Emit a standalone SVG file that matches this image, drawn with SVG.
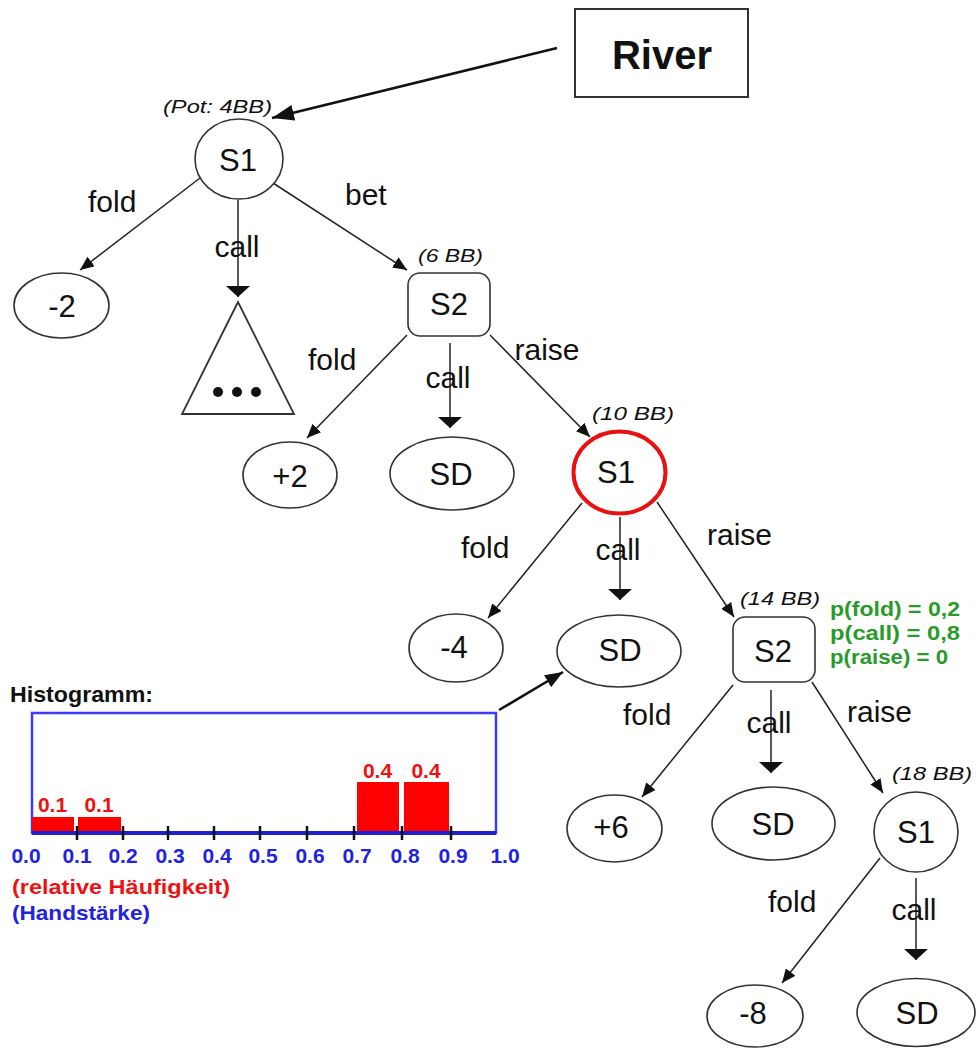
<svg xmlns="http://www.w3.org/2000/svg" width="976" height="1051" viewBox="0 0 976 1051">
<defs>
<style>
.n{fill:#fff;stroke:#333;stroke-width:1.6}
.t{font-family:"Liberation Sans",Arial,sans-serif;font-size:31px;fill:#111;text-anchor:middle}
.lb{font-family:"Liberation Sans",Arial,sans-serif;font-size:30px;fill:#111}
.pot{font-family:"Liberation Sans",Arial,sans-serif;font-size:18px;font-style:italic;fill:#111}
.e{stroke:#222;stroke-width:1.5;fill:none}
.ea{marker-end:url(#a)}
.ec{marker-end:url(#c)}
.g{font-family:"Liberation Sans",Arial,sans-serif;font-size:20px;font-weight:bold;fill:#2a9a2a}
.hb{font-family:"Liberation Sans",Arial,sans-serif;font-size:21px;font-weight:bold}
.bl{fill:#2222e0;text-anchor:middle}
.rd{fill:#ee1111}
</style>
<marker id="a" viewBox="0 0 14 12" refX="14" refY="6" markerWidth="14" markerHeight="12" markerUnits="userSpaceOnUse" orient="auto"><path d="M0,0 L14,6 L0,12 z" fill="#111"/></marker>
<marker id="c" viewBox="0 0 11 24" refX="11" refY="12" markerWidth="11" markerHeight="24" markerUnits="userSpaceOnUse" orient="auto"><path d="M0,0 L11,12 L0,24 z" fill="#111"/></marker>
<marker id="big" viewBox="0 0 22 16" refX="22" refY="8" markerWidth="22" markerHeight="16" markerUnits="userSpaceOnUse" orient="auto"><path d="M0,0 L22,8 L0,16 z" fill="#111"/></marker>
<marker id="h" viewBox="0 0 18 14" refX="18" refY="7" markerWidth="18" markerHeight="14" markerUnits="userSpaceOnUse" orient="auto"><path d="M0,0 L18,7 L0,14 z" fill="#111"/></marker>
</defs>
<rect width="976" height="1051" fill="#fff"/>

<g id="connectors">
<line x1="557" y1="48" x2="272" y2="118" stroke="#111" stroke-width="2.6" marker-end="url(#big)"/>
<line class="e ea" x1="200" y1="178" x2="80" y2="270"/>
<line class="e ec" x1="238" y1="200" x2="238" y2="297"/>
<line class="e ea" x1="273" y1="183" x2="407" y2="270"/>
<line class="e ea" x1="407" y1="335" x2="307" y2="438"/>
<line class="e ec" x1="450" y1="343" x2="450" y2="428"/>
<line class="e ea" x1="490" y1="335" x2="590" y2="437"/>
<line class="e ea" x1="582" y1="503" x2="488" y2="618"/>
<line class="e ec" x1="620" y1="517" x2="620" y2="600"/>
<line class="e ea" x1="657" y1="502" x2="734" y2="617"/>
<line class="e ea" x1="733" y1="685" x2="642" y2="797"/>
<line class="e ec" x1="771" y1="690" x2="771" y2="773"/>
<line class="e ea" x1="812" y1="682" x2="883" y2="793"/>
<line class="e ea" x1="880" y1="858" x2="782" y2="983"/>
<line class="e ec" x1="916" y1="878" x2="916" y2="960"/>
<line x1="499" y1="710" x2="563" y2="672" stroke="#111" stroke-width="2.6" marker-end="url(#h)"/>
<text class="lb" x="88" y="212">fold</text>
<text class="lb" x="237" y="257" text-anchor="middle">call</text>
<text class="lb" x="345" y="205">bet</text>
<text class="lb" x="308" y="370">fold</text>
<text class="lb" x="448" y="388" text-anchor="middle">call</text>
<text class="lb" x="547" y="360" text-anchor="middle">raise</text>
<text class="lb" x="461" y="558">fold</text>
<text class="lb" x="618" y="560" text-anchor="middle">call</text>
<text class="lb" x="707" y="545">raise</text>
<text class="lb" x="623" y="725">fold</text>
<text class="lb" x="769" y="733" text-anchor="middle">call</text>
<text class="lb" x="847" y="722">raise</text>
<text class="lb" x="768" y="912">fold</text>
<text class="lb" x="914" y="920" text-anchor="middle">call</text>
</g>

<g id="river">
<rect x="575" y="9" width="173" height="88" fill="#fff" stroke="#333" stroke-width="2"/>
<text class="t" x="662" y="69" font-weight="bold" style="font-size:40px">River</text>
</g>

<g id="s1_root">
<text class="pot" x="163" y="113" textLength="109" lengthAdjust="spacingAndGlyphs">(Pot: 4BB)</text>
<ellipse class="n" cx="239" cy="159" rx="44" ry="40"/>
<text class="t" x="238" y="171">S1</text>
</g>

<g id="leaf_m2">
<ellipse class="n" cx="61.5" cy="305.5" rx="47.5" ry="32.5"/>
<text class="t" x="62" y="317">-2</text>
</g>

<g id="subtree">
<polygon points="238,302 182,414 294,414" fill="#fff" stroke="#333" stroke-width="1.8"/>
<circle cx="218" cy="392" r="5" fill="#111"/>
<circle cx="237" cy="392" r="5" fill="#111"/>
<circle cx="256" cy="392" r="5" fill="#111"/>
</g>

<g id="s2_a">
<text class="pot" x="418" y="262" textLength="65" lengthAdjust="spacingAndGlyphs">(6 BB)</text>
<rect class="n" x="408" y="273" width="82" height="63" rx="12"/>
<text class="t" x="449" y="315">S2</text>
</g>

<g id="leaf_p2">
<ellipse class="n" cx="290" cy="475" rx="47" ry="33"/>
<text class="t" x="290" y="487">+2</text>
</g>

<g id="sd_a">
<ellipse class="n" cx="452" cy="473.5" rx="62" ry="36.5"/>
<text class="t" x="451" y="485">SD</text>
</g>

<g id="s1_b">
<text class="pot" x="592" y="420" textLength="82" lengthAdjust="spacingAndGlyphs">(10 BB)</text>
<ellipse cx="619.5" cy="472.5" rx="46" ry="41" fill="#fff" stroke="#e81010" stroke-width="4"/>
<text class="t" x="616" y="483">S1</text>
</g>

<g id="leaf_m4">
<ellipse class="n" cx="456" cy="648" rx="47" ry="34"/>
<text class="t" x="454" y="658">-4</text>
</g>

<g id="sd_b">
<ellipse class="n" cx="619" cy="651" rx="62" ry="36"/>
<text class="t" x="620" y="661">SD</text>
</g>

<g id="s2_b">
<text class="pot" x="740" y="605" textLength="80" lengthAdjust="spacingAndGlyphs">(14 BB)</text>
<rect class="n" x="733" y="617" width="82" height="65" rx="12"/>
<text class="t" x="773" y="662">S2</text>
<text class="g" x="830" y="616" textLength="130" lengthAdjust="spacingAndGlyphs">p(fold) = 0,2</text>
<text class="g" x="830" y="640" textLength="130" lengthAdjust="spacingAndGlyphs">p(call) = 0,8</text>
<text class="g" x="830" y="664" textLength="118" lengthAdjust="spacingAndGlyphs">p(raise) = 0</text>
</g>

<g id="leaf_p6">
<ellipse class="n" cx="614.5" cy="828.5" rx="47.5" ry="33.5"/>
<text class="t" x="611" y="838">+6</text>
</g>

<g id="sd_c">
<ellipse class="n" cx="773.5" cy="823.5" rx="61.5" ry="36.5"/>
<text class="t" x="773" y="835">SD</text>
</g>

<g id="s1_c">
<text class="pot" x="892" y="780" textLength="80" lengthAdjust="spacingAndGlyphs">(18 BB)</text>
<ellipse class="n" cx="916" cy="832" rx="42" ry="40"/>
<text class="t" x="916" y="843">S1</text>
</g>

<g id="leaf_m8">
<ellipse class="n" cx="755" cy="1016" rx="48" ry="31"/>
<text class="t" x="753" y="1024">-8</text>
</g>

<g id="sd_d">
<ellipse class="n" cx="916" cy="1012.5" rx="59" ry="34"/>
<text class="t" x="917" y="1024">SD</text>
</g>

<g id="histogram">
<text class="hb" x="10" y="702" fill="#111" style="font-size:22px" textLength="143" lengthAdjust="spacingAndGlyphs">Histogramm:</text>
<rect x="32" y="713" width="464" height="120" fill="none" stroke="#3b3bff" stroke-width="2.5"/>
<rect x="32" y="817" width="42" height="16" fill="#ff0000"/>
<rect x="78" y="817" width="43" height="16" fill="#ff0000"/>
<rect x="357" y="782" width="42" height="51" fill="#ff0000"/>
<rect x="404" y="782" width="45" height="51" fill="#ff0000"/>
<line x1="32" y1="833" x2="496" y2="833" stroke="#2020d0" stroke-width="4"/>
<g stroke="#111" stroke-width="2.5">
<line x1="77" y1="826" x2="77" y2="840"/>
<line x1="123" y1="826" x2="123" y2="840"/>
<line x1="168" y1="826" x2="168" y2="840"/>
<line x1="214" y1="826" x2="214" y2="840"/>
<line x1="260" y1="826" x2="260" y2="840"/>
<line x1="307" y1="826" x2="307" y2="840"/>
<line x1="354" y1="826" x2="354" y2="840"/>
<line x1="402" y1="826" x2="402" y2="840"/>
<line x1="451" y1="826" x2="451" y2="840"/>
</g>
<g class="hb rd" text-anchor="middle">
<text x="52.5" y="812">0.1</text>
<text x="99" y="812">0.1</text>
<text x="377.5" y="778">0.4</text>
<text x="426" y="778">0.4</text>
</g>
<g class="hb bl">
<text x="26" y="863">0.0</text>
<text x="77" y="863">0.1</text>
<text x="123" y="863">0.2</text>
<text x="170" y="863">0.3</text>
<text x="217" y="863">0.4</text>
<text x="263" y="863">0.5</text>
<text x="310" y="863">0.6</text>
<text x="357" y="863">0.7</text>
<text x="405" y="863">0.8</text>
<text x="453" y="863">0.9</text>
<text x="505" y="863">1.0</text>
</g>
<text class="hb rd" x="12" y="894" textLength="218" lengthAdjust="spacingAndGlyphs">(relative Häufigkeit)</text>
<text class="hb" x="12" y="920" fill="#2222e0" textLength="138" lengthAdjust="spacingAndGlyphs">(Handstärke)</text>
</g>
</svg>
